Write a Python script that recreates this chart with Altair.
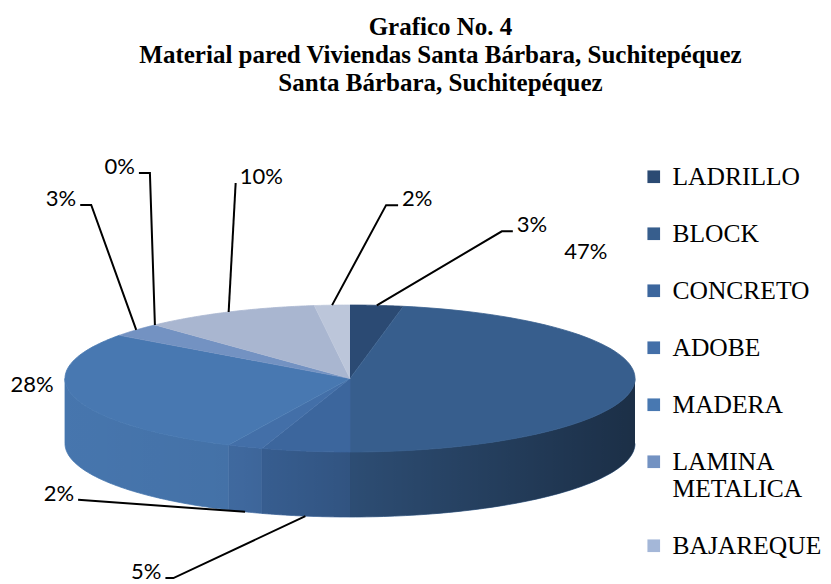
import altair as alt
import pandas as pd

# ---------------- data ----------------
categories = ["LADRILLO", "BLOCK", "CONCRETO", "ADOBE", "MADERA",
              "LAMINA METALICA", "BAJAREQUE", "LEPA, PALO O CAÑA", "OTRO"]
percentages = [3, 47, 5, 2, 28, 3, 0, 10, 2]
legend_shown = categories[:7]

# ---------------- styles ----------------
top_colors = ["#2b4a73", "#375e8d", "#3c669d", "#436fa8", "#4878b1",
              "#7392c2", "#a4b7d8", "#a9b6d0", "#bcc6da"]

# callout layout for the percentage labels (offset of label elbow from slice anchor, px)
callout_dx = [125, -48, -132, -167, -42, -45, -5, 7, 54]
callout_dy = [-74, -198, 62, -12, -77, -125, -152, -129, -100]
has_leader = [1, 0, 1, 1, 0, 1, 1, 1, 1]
tick_len = [11, 0, -8, 0, 0, -11, -11, 0, 12]

# geometry of the 3D ellipse (plot-area pixels)
W, H = 815, 476
CX, CY, RX, RY, DEPTH = 342, 270.5, 285, 73.5, 65
N = 80

df = pd.DataFrame({
    "cat": categories,
    "val": percentages,
    "idx": list(range(len(categories))),
    "ldx": callout_dx,
    "ldy": callout_dy,
    "leader": has_leader,
    "tick": tick_len,
})

xs = alt.Scale(domain=[0, W], nice=False, zero=False)
ys = alt.Scale(domain=[H, 0], nice=False, zero=False)
X = alt.X("px:Q", scale=xs, axis=None)
Y = alt.Y("py:Q", scale=ys, axis=None)

base = (
    alt.Chart(df)
    .transform_window(cum="sum(val)", sort=[alt.SortField("idx", order="ascending")], frame=[None, 0])
    .transform_joinaggregate(total="sum(val)")
    .transform_calculate(a0="(datum.cum - datum.val) / datum.total * 2 * PI")
    .transform_calculate(a1="datum.cum / datum.total * 2 * PI")
    .transform_calculate(m="(datum.a0 + datum.a1) / 2")
)


def wall(chart):
    """Points of the visible (front) side wall between angles b0 and b1."""
    return (
        chart.transform_filter("datum.b1 > datum.b0")
        .transform_calculate(k=f"sequence(0, {2 * N + 2})")
        .transform_flatten(["k"])
        .transform_calculate(
            ang=f"datum.k <= {N} ? datum.b0 + (datum.b1 - datum.b0) * datum.k / {N} "
                f": datum.b1 - (datum.b1 - datum.b0) * (datum.k - {N + 1}) / {N}"
        )
        .transform_calculate(px=f"{CX} + {RX} * sin(datum.ang)")
        .transform_calculate(py=f"{CY} - {RY} * cos(datum.ang) + (datum.k > {N} ? {DEPTH} : 0)")
    )


# ---- side walls (front half only) ----
side = (
    wall(base.transform_calculate(b0="max(datum.a0, PI / 2)")
         .transform_calculate(b1="min(datum.a1, 3 * PI / 2)"))
    .mark_line(strokeWidth=0.8)
    .encode(
        x=X, y=Y, order="k:Q",
        fill=alt.Fill("cat:N", scale=alt.Scale(domain=categories, range=top_colors), legend=None),
        stroke=alt.Stroke("cat:N", scale=alt.Scale(domain=categories, range=top_colors), legend=None),
    )
)

# ---- lighting of the whole front wall (darker to the right) ----
shade = (
    wall(base.transform_aggregate(total="sum(val)")
         .transform_calculate(b0="PI / 2")
         .transform_calculate(b1="3 * PI / 2"))
    .mark_line(
        strokeWidth=0,
        fill=alt.LinearGradient(
            gradient="linear", x1=0, x2=1, y1=0, y2=0,
            stops=[alt.GradientStop(color="rgba(0,0,0,0.02)", offset=0),
                   alt.GradientStop(color="rgba(0,0,0,0.06)", offset=0.3),
                   alt.GradientStop(color="rgba(0,0,0,0.18)", offset=0.5),
                   alt.GradientStop(color="rgba(0,0,0,0.5)", offset=1)],
        ),
    )
    .encode(x=X, y=Y, order="k:Q")
)

# ---- top faces ----
top = (
    base.transform_filter("datum.val > 0")
    .transform_calculate(k=f"sequence(-1, {N + 1})")
    .transform_flatten(["k"])
    .transform_calculate(ang=f"datum.a0 + (datum.a1 - datum.a0) * max(datum.k, 0) / {N}")
    .transform_calculate(px=f"datum.k < 0 ? {CX} : {CX} + {RX} * sin(datum.ang)")
    .transform_calculate(py=f"datum.k < 0 ? {CY} : {CY} - {RY} * cos(datum.ang)")
    .mark_line(strokeWidth=0.8)
    .encode(
        x=X, y=Y, order="k:Q",
        fill=alt.Fill(
            "cat:N",
            scale=alt.Scale(domain=categories, range=top_colors),
            legend=alt.Legend(
                title=None, orient="none", legendX=633, legendY=56, padding=0,
                values=legend_shown, symbolType="square", symbolSize=160,
                symbolStrokeWidth=0, labelFont="Liberation Serif", labelFontSize=25.5,
                labelColor="#000000", labelLimit=400, labelOffset=6, rowPadding=30,
                labelExpr="datum.label == 'LAMINA METALICA' ? ['LAMINA', 'METALICA'] : datum.label",
            ),
        ),
        stroke=alt.Stroke("cat:N", scale=alt.Scale(domain=categories, range=top_colors), legend=None),
    )
)

# ---- label anchors ----
anch = (
    base.transform_calculate(front="cos(datum.m) < 0 ? 1 : 0")
    .transform_calculate(ax=f"{CX} + {RX} * sin(datum.m)")
    .transform_calculate(ay=f"{CY} - {RY} * cos(datum.m) + datum.front * {DEPTH}")
    .transform_calculate(ex="datum.ax + datum.ldx")
    .transform_calculate(ey="datum.ay + datum.ldy")
    .transform_calculate(pct="format(datum.val / datum.total, '.0%')")
)

leaders = (
    anch.transform_filter("datum.leader == 1")
    .transform_calculate(k="sequence(0, 3)")
    .transform_flatten(["k"])
    .transform_calculate(px="datum.k == 0 ? datum.ax : datum.k == 1 ? datum.ex : datum.ex + datum.tick")
    .transform_calculate(py="datum.k == 0 ? datum.ay : datum.ey")
    .mark_line(color="#000000", strokeWidth=2)
    .encode(x=X, y=Y, order="k:Q", detail="cat:N")
)

lab_font = dict(font="Lato", fontSize=22, color="#000000")

labels_left = (
    anch.transform_filter("datum.leader == 1 && datum.ldx >= 0")
    .transform_calculate(px="datum.ex + datum.tick + 4")
    .transform_calculate(py="datum.ey")
    .mark_text(align="left", baseline="alphabetic", dy=1, **lab_font)
    .encode(x=X, y=Y, text="pct:N")
)
labels_right = (
    anch.transform_filter("datum.leader == 1 && datum.ldx < 0")
    .transform_calculate(px="datum.ex + datum.tick - 4")
    .transform_calculate(py="datum.ey")
    .mark_text(align="right", baseline="alphabetic", dy=1, **lab_font)
    .encode(x=X, y=Y, text="pct:N")
)
labels_free = (
    anch.transform_filter("datum.leader == 0")
    .transform_calculate(px="datum.ex")
    .transform_calculate(py="datum.ey")
    .mark_text(align="center", baseline="middle", **lab_font)
    .encode(x=X, y=Y, text="pct:N")
)

chart = (
    alt.layer(side, shade, top, leaders, labels_left, labels_right, labels_free)
    .resolve_scale(fill="independent", stroke="independent")
    .properties(
        width=W, height=H,
        background="#ffffff",
        padding={"left": 0, "top": 100, "right": 0, "bottom": 0},
        autosize=alt.AutoSizeParams(type="none"),
        title=alt.TitleParams(
            ["Grafico No. 4",
             "Material pared Viviendas Santa Bárbara, Suchitepéquez",
             "Santa Bárbara, Suchitepéquez"],
            font="Liberation Serif", fontSize=25, fontWeight="bold", lineHeight=28,
            color="#000000", anchor="middle", dx=25, offset=12,
        ),
    )
    .configure_view(stroke=None, strokeWidth=0)
)

chart.save("out.html", embed_options={"renderer": "svg", "actions": False})
